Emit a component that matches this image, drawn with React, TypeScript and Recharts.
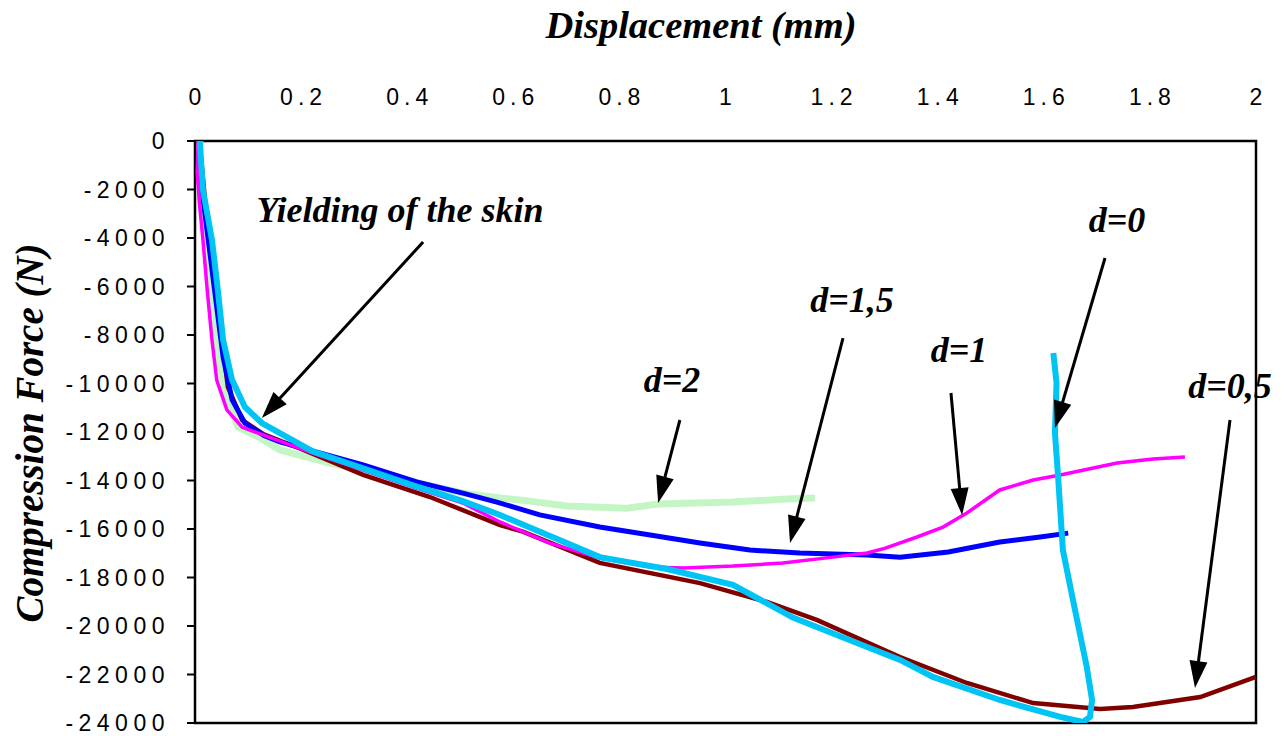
import React from 'react';
import { LineChart, Line, XAxis, YAxis, ReferenceLine, ReferenceDot, ReferenceArea } from 'recharts';

// ---- axis ticks ----
const xTicks = [0, 0.2, 0.4, 0.6, 0.8, 1, 1.2, 1.4, 1.6, 1.8, 2];
const yTicks = [0, -2000, -4000, -6000, -8000, -10000, -12000, -14000, -16000, -18000, -20000, -22000, -24000];

// ---- series: [displacement (mm), compression force (N)] ----
const seriesD2: [number, number][] = [
  [0.009, 0], [0.009, -2020], [0.019, -4080], [0.032, -6850], [0.043, -8910], [0.062, -10680],
  [0.081, -11800], [0.119, -12200], [0.16, -12740], [0.254, -13280], [0.381, -13900],
  [0.505, -14520], [0.575, -14720], [0.631, -14850], [0.70, -15050], [0.814, -15140],
  [0.873, -14970], [1.014, -14890], [1.116, -14760], [1.169, -14720],
];

const seriesD15: [number, number][] = [
  [0.009, 0], [0.013, -2020], [0.025, -4080], [0.041, -6850], [0.053, -8910], [0.070, -10680],
  [0.094, -11630], [0.130, -12150], [0.16, -12410], [0.317, -13360], [0.418, -14060],
  [0.505, -14520], [0.569, -14890], [0.650, -15420], [0.763, -15920], [0.858, -16250],
  [0.952, -16580], [1.046, -16870], [1.140, -16990], [1.267, -17070], [1.329, -17160],
  [1.42, -16950], [1.517, -16540], [1.593, -16330], [1.646, -16170],
];

const seriesD1: [number, number][] = [
  [0.006, 0], [0.004, -1320], [0.009, -2720], [0.015, -4080], [0.023, -6140], [0.032, -8210],
  [0.041, -9860], [0.060, -11090], [0.089, -11800], [0.128, -12120], [0.222, -12870],
  [0.317, -13570], [0.411, -14270], [0.505, -14930], [0.575, -15710], [0.669, -16580],
  [0.763, -17200], [0.858, -17570], [0.920, -17610], [1.014, -17530], [1.108, -17400],
  [1.203, -17160], [1.267, -16990], [1.30, -16800], [1.361, -16330], [1.410, -15920],
  [1.455, -15340], [1.517, -14390], [1.580, -13980], [1.631, -13770], [1.738, -13280],
  [1.806, -13110], [1.866, -13030],
];

const seriesD0: [number, number][] = [
  [0.009, 0], [0.015, -2020], [0.032, -4080], [0.043, -6140], [0.053, -8210], [0.070, -9860],
  [0.094, -10970], [0.126, -11630], [0.222, -12800], [0.317, -13500], [0.411, -14200],
  [0.505, -14850], [0.575, -15420], [0.763, -17160], [0.890, -17650], [1.014, -18300],
  [1.127, -19650], [1.23, -20550], [1.329, -21400], [1.391, -22100], [1.517, -23050],
  [1.631, -23750], [1.674, -23960], [1.687, -23750], [1.691, -23050], [1.681, -21690],
  [1.655, -18930], [1.636, -16870], [1.627, -13860], [1.621, -12040], [1.624, -9980],
  [1.618, -8740],
];

const seriesD05: [number, number][] = [
  [0.006, 0], [0.013, -1070], [0.023, -3380], [0.038, -6140], [0.051, -8210], [0.062, -10150],
  [0.089, -11510], [0.13, -12100], [0.20, -12700], [0.317, -13770], [0.443, -14680],
  [0.575, -15840], [0.618, -16110], [0.763, -17400], [0.952, -18230], [1.078, -19010],
  [1.172, -19750], [1.329, -21280], [1.455, -22350], [1.580, -23180], [1.706, -23420],
  [1.768, -23340], [1.895, -22930], [2.0, -22100],
];

// ---- annotations (data coordinates) ----
const annotationLabels = ['Yielding of the skin', 'd=2', 'd=1,5', 'd=1', 'd=0', 'd=0,5'];
const annotationLabelPos: [number, number][] = [
  [0.3864, -3340], [0.899, -10350], [1.2385, -7052], [1.440, -9113], [1.738, -3753], [1.951, -10598],
];
const arrowStarts: [number, number][] = [
  [0.430, -4165], [0.914, -11505], [1.2215, -8124], [1.425, -10392], [1.7154, -4825], [1.951, -11505],
];
const arrowEnds: [number, number][] = [
  [0.126, -11423], [0.873, -14928], [1.1216, -16577], [1.446, -15423], [1.6211, -11835], [1.885, -22557],
];

const toRows = (pts: [number, number][]) => pts.map(([d, f]) => ({ d, f }));

const serif = '"Liberation Serif", "Times New Roman", serif';
const sans = '"Liberation Sans", Arial, sans-serif';

const Arrow = (p: any) => {
  const { x1, y1, x2, y2 } = p;
  const dx = x2 - x1;
  const dy = y2 - y1;
  const len = Math.hypot(dx, dy) || 1;
  const ux = dx / len;
  const uy = dy / len;
  const hl = 27;
  const hw = 9;
  const bx = x2 - ux * hl;
  const by = y2 - uy * hl;
  return (
    <g>
      <line x1={x1} y1={y1} x2={bx + ux * 3} y2={by + uy * 3} stroke="#000" strokeWidth={3} />
      <polygon
        points={`${x2},${y2} ${bx - uy * hw},${by + ux * hw} ${bx + uy * hw},${by - ux * hw}`}
        fill="#000"
      />
    </g>
  );
};

const makeLabel = (text: string) => (p: any) => (
  <text
    x={p.cx}
    y={p.cy}
    textAnchor="middle"
    fontFamily={serif}
    fontWeight="bold"
    fontStyle="italic"
    fontSize={36}
    fill="#000"
  >
    {text}
  </text>
);

const XTick = (p: any) => {
  const v = p.payload.value;
  return (
    <text
      x={p.x + 2.5}
      y={p.y}
      textAnchor="middle"
      fontFamily={sans}
      fontSize={23}
      fill="#000"
      style={{ letterSpacing: '5px' }}
    >
      {String(v)}
    </text>
  );
};

const YTick = (p: any) => {
  const v = p.payload.value;
  return (
    <text
      x={p.x}
      y={p.y}
      dy="0.36em"
      textAnchor="end"
      fontFamily={sans}
      fontSize={23}
      fill="#000"
      style={{ letterSpacing: '5.5px' }}
    >
      {String(v)}
    </text>
  );
};

export default function App() {
  return (
    <div style={{ position: 'relative', width: 1268, height: 728 }}>
      <style>{'html,body{overflow:hidden;}'}</style>
      <LineChart
        width={1268}
        height={728}
        margin={{ top: 73, left: 7, right: 20, bottom: 13 }}
      >
        <XAxis
          type="number"
          dataKey="d"
          orientation="top"
          domain={[0, 2]}
          ticks={xTicks}
          allowDataOverflow
          height={60}
          axisLine={false}
          tickLine={false}
          tickSize={0}
          tickMargin={36}
          tick={<XTick />}
          interval={0}
        />
        <YAxis
          type="number"
          dataKey="f"
          domain={[-24000, 0]}
          ticks={yTicks}
          allowDataOverflow
          width={180}
          axisLine={false}
          tickLine={{ stroke: '#000', strokeWidth: 2 }}
          tickSize={8}
          tickMargin={17}
          tick={<YTick />}
          interval={0}
        />
        <ReferenceArea
          x1={0}
          x2={2}
          y1={-24000}
          y2={0}
          fill="none"
          fillOpacity={0}
          stroke="#000"
          strokeWidth={2.5}
          ifOverflow="visible"
        />
        <Line data={toRows(seriesD2)} dataKey="f" type="linear" stroke="#c4f5c4" strokeWidth={7} dot={false} isAnimationActive={false} />
        <Line data={toRows(seriesD05)} dataKey="f" type="linear" stroke="#800000" strokeWidth={4.5} dot={false} isAnimationActive={false} />
        <Line data={toRows(seriesD15)} dataKey="f" type="linear" stroke="#0000ff" strokeWidth={5} dot={false} isAnimationActive={false} />
        <Line data={toRows(seriesD1)} dataKey="f" type="linear" stroke="#ff00ff" strokeWidth={3.5} dot={false} isAnimationActive={false} />
        <Line data={toRows(seriesD0)} dataKey="f" type="linear" stroke="#00c4f4" strokeWidth={6} dot={false} isAnimationActive={false} />
        {arrowStarts.map((s, i) => (
          <ReferenceLine
            key={`arrow-${i}`}
            segment={[{ x: s[0], y: s[1] }, { x: arrowEnds[i][0], y: arrowEnds[i][1] }]}
            shape={Arrow}
            ifOverflow="visible"
          />
        ))}
        {annotationLabels.map((t, i) => (
          <ReferenceDot
            key={`lab-${i}`}
            x={annotationLabelPos[i][0]}
            y={annotationLabelPos[i][1]}
            r={0}
            shape={makeLabel(t)}
            ifOverflow="visible"
          />
        ))}
      </LineChart>
      <svg
        width={1268}
        height={728}
        style={{ position: 'absolute', left: 0, top: 0, pointerEvents: 'none', overflow: 'visible' }}
      >
        <text
          x={693}
          y={30}
          textAnchor="middle"
          fontFamily={serif}
          fontWeight="bold"
          fontStyle="italic"
          fontSize={38.5}
          fill="#000"
        >
          Displacement (mm)
        </text>
        <text
          transform="translate(35,425) rotate(-90)"
          textAnchor="middle"
          fontFamily={serif}
          fontWeight="bold"
          fontStyle="italic"
          fontSize={39}
          fill="#000"
        >
          Compression Force (N)
        </text>
      </svg>
    </div>
  );
}
